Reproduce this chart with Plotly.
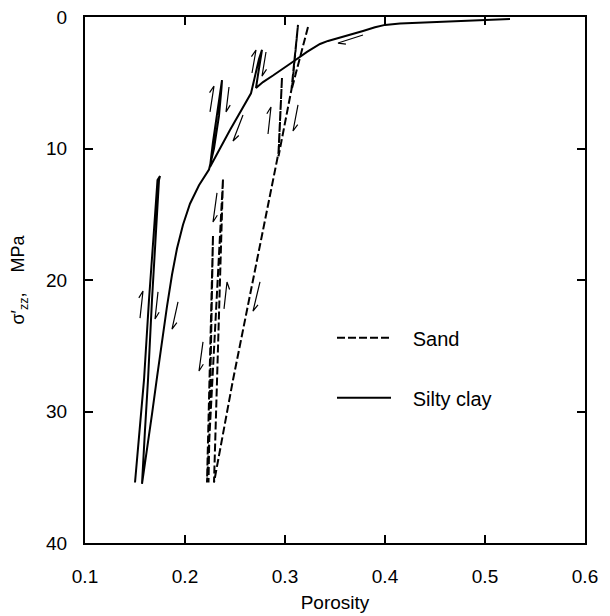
import math
import plotly.graph_objects as go

# ---- data (porosity, effective vertical stress MPa) ----
clay_phi = [0.525, 0.50, 0.475, 0.45, 0.43, 0.415, 0.40, 0.39, 0.378, 0.365, 0.352, 0.343, 0.335,
            0.322, 0.308, 0.298, 0.288, 0.278, 0.271,
            0.273, 0.276, 0.277, 0.274, 0.270, 0.267, 0.266,
            0.245, 0.225,
            0.228, 0.233, 0.2355, 0.237, 0.2365, 0.234, 0.229, 0.224,
            0.214, 0.205, 0.198, 0.192, 0.187, 0.182, 0.177, 0.172, 0.167, 0.162, 0.157,
            0.160, 0.163, 0.167, 0.171, 0.174, 0.175,
            0.1725, 0.169, 0.164, 0.159, 0.1545, 0.150]
clay_s = [0.15, 0.23, 0.29, 0.35, 0.42, 0.5, 0.6, 0.78, 1.06, 1.33, 1.6, 1.82, 2.05,
          2.65, 3.4, 3.95, 4.45, 4.95, 5.4,
          4.4, 3.1, 2.5, 3.2, 4.5, 5.5, 5.8,
          8.6, 11.4,
          9.5, 7.0, 5.6, 4.8, 5.4, 7.5, 10.0, 11.6,
          12.8, 14.2, 15.8, 17.6, 19.6, 22.0, 24.6, 27.4, 30.2, 32.8, 35.5,
          31.4, 27.6, 21.5, 16.2, 12.4, 12.1,
          12.4, 16.2, 21.5, 27.6, 31.4, 35.4]

sand_phi = [0.323, 0.307, 0.313, 0.3065, 0.2935, 0.297, 0.2935, 0.292,
            0.248, 0.229, 0.238, 0.222, 0.228, 0.2235]
sand_s = [0.76, 5.4, 0.6, 5.5, 10.6, 4.6, 10.3, 10.9,
          27.6, 35.4, 12.3, 35.4, 16.6, 35.4]

# small half-head arrows: (tail_phi, tail_s, head_phi, head_s, barb side)
arrows = [
    (0.378, 1.37, 0.353, 1.98, 1),
    (0.267, 4.26, 0.271, 2.51, 1),
    (0.281, 2.66, 0.277, 4.49, 1),
    (0.225, 7.22, 0.229, 5.25, 1),
    (0.244, 5.32, 0.241, 7.22, 1),
    (0.258, 7.45, 0.248, 9.43, 1),
    (0.283, 8.90, 0.286, 6.84, 1),
    (0.313, 6.69, 0.308, 8.67, 1),
    (0.155, 22.9, 0.158, 20.84, 1),
    (0.173, 20.9, 0.170, 22.97, 1),
    (0.193, 21.67, 0.187, 23.73, 1),
    (0.232, 13.38, 0.228, 15.59, 1),
    (0.239, 22.2, 0.242, 20.15, -1),
    (0.218, 24.71, 0.214, 26.92, 1),
    (0.275, 20.15, 0.268, 22.36, 1),
]

x_ticks = [0.1, 0.2, 0.3, 0.4, 0.5, 0.6]
y_ticks = [0, 10, 20, 30, 40]

# ---- figure geometry (page body adds an 8px offset) ----
W, H = 602, 608
ML, MR, MT, MB = 77, 25, 9, 73
PW, PH = W - ML - MR, H - MT - MB
XR, YR = (0.1, 0.6), (40, 0)
kx = PW / (XR[1] - XR[0])
ky = PH / (YR[0] - YR[1])

fig = go.Figure()

NB = "\u00a0"
fig.add_trace(go.Scatter(x=sand_phi, y=sand_s, mode="lines", name=NB * 3 + "Sand",
                         line=dict(color="black", width=2, dash="8px,3px"),
                         legend="legend"))
fig.add_trace(go.Scatter(x=clay_phi, y=clay_s, mode="lines", name=NB * 3 + "Silty clay",
                         line=dict(color="black", width=2), legend="legend2"))

ax, ay = [], []
ang = math.radians(25)
for (xt, yt, xh, yh, side) in arrows:
    dx, dy = (xt - xh) * kx, (yt - yh) * ky
    n = math.hypot(dx, dy)
    ux, uy = dx / n, dy / n
    t = side * ang
    rx = ux * math.cos(t) - uy * math.sin(t)
    ry = ux * math.sin(t) + uy * math.cos(t)
    bx, by = xh + 8 * rx / kx, yh + 8 * ry / ky
    ax += [xt, xh, bx, None]
    ay += [yt, yh, by, None]
fig.add_trace(go.Scatter(x=ax, y=ay, mode="lines", showlegend=False,
                         line=dict(color="black", width=1.2), hoverinfo="skip"))

font = "Liberation Sans, Arial, sans-serif"
axis_common = dict(showline=True, linecolor="black", linewidth=2, mirror="ticks",
                   ticks="inside", ticklen=8, tickwidth=1.5, tickcolor="black",
                   showgrid=False, zeroline=False, automargin=False,
                   ticklabeloverflow="allow",
                   tickfont=dict(family=font, size=19, color="black"))

fig.update_layout(
    width=W, height=H,
    margin=dict(l=ML, r=MR, t=MT, b=MB),
    paper_bgcolor="white", plot_bgcolor="white",
    font=dict(family=font, color="black"),
    xaxis=dict(range=list(XR), tickvals=x_ticks, ticktext=[f"{v:.1f}" for v in x_ticks],
               title=dict(text="Porosity", font=dict(family=font, size=19), standoff=10),
               ticklabelstandoff=15, **axis_common),
    yaxis=dict(range=list(YR), tickvals=y_ticks, ticktext=[str(v) for v in y_ticks],
               title=dict(text="σ′<sub>zz</sub>," + NB * 4 + "MPa",
                          font=dict(family=font, size=18), standoff=21),
               ticklabelstandoff=12, **axis_common),
    legend=dict(x=0.494, y=0.39, xanchor="left", yanchor="middle", itemwidth=54,
                bgcolor="rgba(0,0,0,0)", font=dict(family=font, size=20)),
    legend2=dict(x=0.494, y=0.276, xanchor="left", yanchor="middle", itemwidth=54,
                 bgcolor="rgba(0,0,0,0)", font=dict(family=font, size=20)),
    showlegend=True,
)

fig.write_html("out.html")
